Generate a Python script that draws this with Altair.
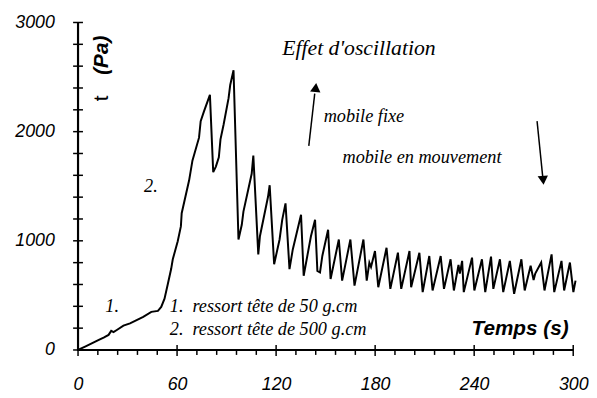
import altair as alt
import pandas as pd

# --- curve (time in s, shear stress in Pa) ---
time_s = [0, 4.6, 8.6, 12.6, 15.5, 18.5, 20.1, 21.5, 23.5, 27.5, 31.5, 35.5, 39.5, 44.4, 48.4,
          50.4, 52.4, 54.4, 56.4, 57.4, 60.4, 62.3, 62.8, 67.3, 69.3, 73.3, 74.3, 76.3, 79.9,
          81.9, 83.5, 85.3, 86.3, 88.2, 91.2, 92.2, 94.2, 97.2, 99.2, 100.2, 105.2, 106.2,
          109.2, 110.2, 115.1, 116.1, 118.8, 122.1, 123.7, 125.7, 128.1, 130.1, 135.1, 136.7,
          141.1, 143.6, 145.0, 146.6, 148.0, 151.5, 153.0, 158.0, 160.0, 165.0, 167.5, 172.9,
          174.9, 176.5, 177.5, 179.9, 181.9, 186.9, 189.2, 193.8, 195.8, 200.8, 201.8, 206.8,
          208.8, 212.8, 214.8, 219.7, 221.7, 225.7, 227.7, 230.5, 231.3, 232.7, 233.7, 238.7,
          240.1, 244.7, 246.7, 250.2, 251.6, 255.6, 257.6, 261.6, 264.2, 268.6, 270.6, 274.2,
          276.0, 277.0, 280.6, 282.6, 286.9, 288.5, 292.9, 294.5, 298.0, 300.1, 301.4]
stress_pa = [0, 33, 63, 93, 114, 138, 175, 163, 183, 223, 244, 274, 304, 349, 358,
             394, 470, 605, 741, 831, 996, 1132, 1253, 1554, 1734, 1945, 2096, 2186, 2337,
             1629, 1680, 1765, 1930, 2065, 2307, 2427, 2562, 1012, 1147, 1268, 1614, 1780,
             876, 1042, 1403, 1509, 786, 1012, 1192, 1343, 741, 921, 1238, 680,
             1042, 1192, 725, 710, 861, 1102, 650, 1012, 635, 1012, 590, 1012,
             635, 800, 760, 906, 575, 936, 560, 891, 560, 906, 575, 891,
             530, 861, 545, 861, 560, 831, 545, 780, 700, 816, 530, 846,
             545, 831, 530, 855, 560, 831, 530, 816, 515, 831, 545, 771,
             640, 700, 801, 545, 876, 530, 816, 545, 801, 530, 635]

# --- axes ---
x_range = [0, 300]
y_range = [0, 3000]
x_major = [0, 60, 120, 180, 240, 300]
x_minor = [12, 24, 36, 48, 72, 84, 96, 108, 132, 144, 156, 168, 192, 204, 216, 228,
           252, 264, 276, 288]
y_ticks = [0, 200, 400, 600, 800, 1000, 1200, 1400, 1600, 1800, 2000, 2200, 2400,
           2600, 2800, 3000]
y_major = [0, 1000, 2000, 3000]

# --- annotations (data coordinates) ---
serif_texts = ["Effet d'oscillation", "mobile fixe", "mobile en mouvement", "2.", "1.",
               "1.", "ressort tête de 50 g.cm", "2.", "ressort tête de 500 g.cm"]
serif_x = [123.7, 148.8, 160.2, 40.0, 16.5, 55.6, 69.3, 55.6, 69.3]
serif_y = [2702, 2087, 1717, 1446, 352, 352, 352, 136, 136]
serif_size = [22, 18.5, 18.5, 18.5, 18.5, 18.5, 18.5, 18.5, 18.5]

arrow_x = [139.8, 278.1]
arrow_y = [1870, 2096]
arrow_x2 = [143.4, 281.5]
arrow_y2 = [2349, 1590]
head_x = [144.0, 281.8]
head_y = [2404, 1554]
head_shape = ["triangle-up", "triangle-down"]
head_angle = [6, 355]

W, H = 502, 332
xs = alt.Scale(domain=x_range, nice=False, zero=False)
ys = alt.Scale(domain=y_range, nice=False, zero=False)

AX = alt.Axis(
    values=x_major, title=None, format="d", domain=False, ticks=False, tickSize=0, grid=False,
    labelFlush=False, labelOverlap=False,
    labelFont="Liberation Sans", labelFontStyle="italic", labelFontSize=18,
    labelColor="black", labelPadding=26)
AY = alt.Axis(
    values=y_major, title=None, format="d", domain=False, ticks=False, tickSize=0, grid=False,
    labelFlush=False, labelOverlap=False,
    labelFont="Liberation Sans", labelFontStyle="italic", labelFontSize=18,
    labelColor="black", labelPadding=24)


def X(field):
    return alt.X(field, scale=xs, axis=AX)


def Y(field):
    return alt.Y(field, scale=ys, axis=AY)


curve = pd.DataFrame({"t": time_s, "p": stress_pa})

line = alt.Chart(curve).mark_line(color="black", strokeWidth=2, clip=False).encode(
    x=X("t:Q"), y=Y("p:Q"))

# axis lines as one L-shaped path through the scales
frame_df = pd.DataFrame({"fx": [x_range[0], x_range[0], x_range[1]],
                         "fy": [y_range[1], y_range[0], y_range[0]],
                         "k": [0, 1, 2]})
axis_path = alt.Chart(frame_df).mark_line(color="black", strokeWidth=2.2, clip=False).encode(
    x=X("fx:Q"), y=Y("fy:Q"), order="k:Q")

ytick = alt.Chart(pd.DataFrame({"v": y_ticks})).mark_rule(color="black", strokeWidth=1.5).encode(
    y=Y("v:Q"), x=alt.value(-5), x2=alt.value(5))
xmaj = alt.Chart(pd.DataFrame({"v": x_major})).mark_rule(color="black", strokeWidth=1.5).encode(
    x=X("v:Q"), y=alt.value(H - 5), y2=alt.value(H + 6))
xmin = alt.Chart(pd.DataFrame({"v": x_minor})).mark_rule(color="black", strokeWidth=1.5).encode(
    x=X("v:Q"), y=alt.value(H), y2=alt.value(H + 5))

layers = [line, axis_path, ytick, xmaj, xmin]

for txt, tx, ty, sz in zip(serif_texts, serif_x, serif_y, serif_size):
    layers.append(alt.Chart(pd.DataFrame({"x": [tx], "y": [ty], "s": [txt]})).mark_text(
        font="Liberation Serif", fontStyle="italic", fontSize=sz, align="left",
        baseline="alphabetic", color="black").encode(x=X("x:Q"), y=Y("y:Q"), text="s:N"))

layers.append(alt.Chart(pd.DataFrame({"x": [238.4], "y": [136], "s": ["Temps (s)"]})).mark_text(
    font="Liberation Sans", fontStyle="italic", fontWeight="bold", fontSize=21, align="left",
    baseline="alphabetic", color="black").encode(x=X("x:Q"), y=Y("y:Q"), text="s:N"))

# y axis title: "t" plain + "(Pa)" bold italic, rotated
layers.append(alt.Chart(pd.DataFrame({"x": [14.3], "y": [2304], "s": ["t"]})).mark_text(
    font="Liberation Sans", fontSize=21, angle=270, align="center", baseline="middle",
    color="black").encode(x=X("x:Q"), y=Y("y:Q"), text="s:N"))
layers.append(alt.Chart(pd.DataFrame({"x": [14.3], "y": [2700], "s": ["(Pa)"]})).mark_text(
    font="Liberation Sans", fontSize=21, fontStyle="italic", fontWeight="bold", angle=270,
    align="center", baseline="middle", color="black").encode(x=X("x:Q"), y=Y("y:Q"), text="s:N"))

arrows = pd.DataFrame({"x": arrow_x, "y": arrow_y, "x2": arrow_x2, "y2": arrow_y2})
layers.append(alt.Chart(arrows).mark_rule(color="black", strokeWidth=1.5).encode(
    x=X("x:Q"), y=Y("y:Q"), x2="x2:Q", y2="y2:Q"))
for hx, hy, hs, ha in zip(head_x, head_y, head_shape, head_angle):
    layers.append(alt.Chart(pd.DataFrame({"x": [hx], "y": [hy]})).mark_point(
        shape=hs, filled=True, size=110, color="black", opacity=1, angle=ha).encode(
        x=X("x:Q"), y=Y("y:Q")))

chart = alt.layer(*layers).properties(
    width=W, height=H,
    autosize=alt.AutoSizeParams(type="none"),
    padding={"left": 71, "top": 12, "right": 16, "bottom": 46},
    background="white",
).configure_view(stroke=None)

chart.save("out.html", embed_options={"renderer": "svg", "actions": False})
